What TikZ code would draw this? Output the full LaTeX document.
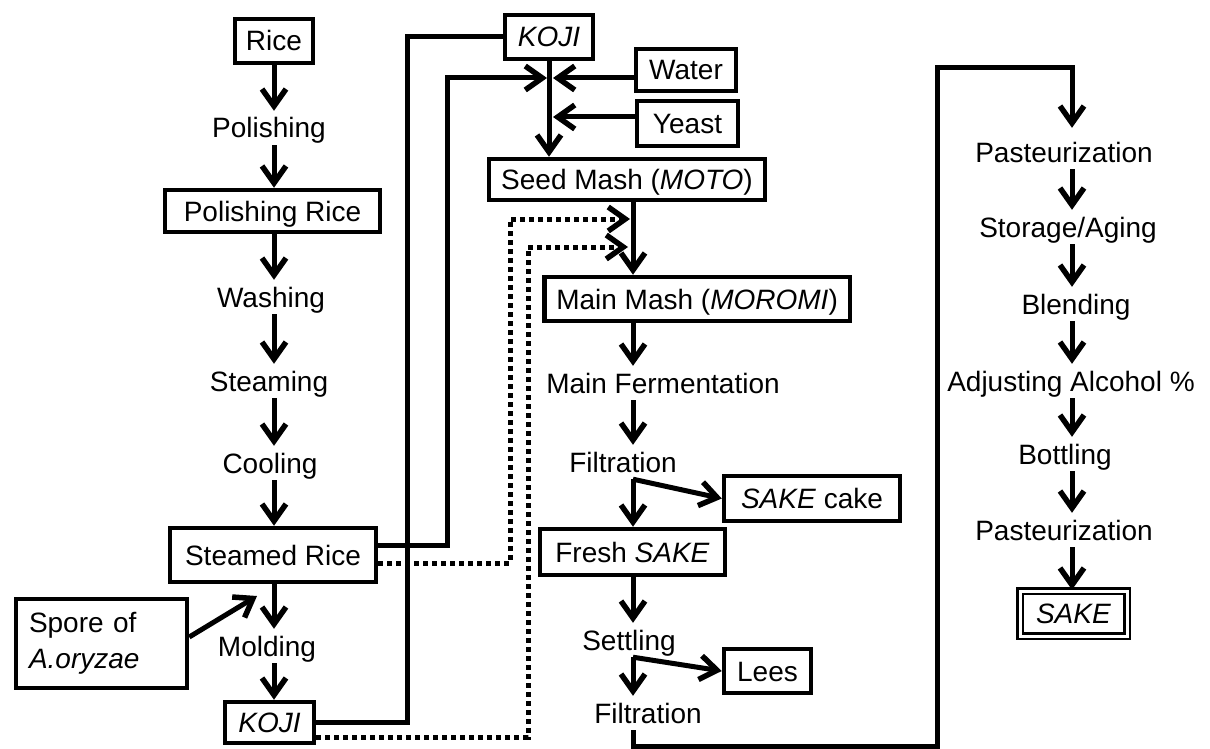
\documentclass[tikz,border=0pt]{standalone}
\usepackage{fontspec}
\setmainfont{Liberation Sans}
\usetikzlibrary{arrows.meta,calc}
\begin{document}
\begin{tikzpicture}[x=1pt,y=-1pt,
  every node/.style={font=\fontsize{28pt}{36pt}\selectfont, inner sep=0pt},
  box/.style={draw, line width=4.5pt, text height=20pt, text depth=0pt},
  lbl/.style={text height=20pt, text depth=0pt, inner xsep=2pt, inner ysep=7pt},
  tipv/.style={-{Straight Barb[length=17pt,width=24pt,line width=5.5pt]}},
  arr/.style={line width=5pt, tipv},
  ln/.style={line width=5pt},
  dot/.style={line width=5pt, dash pattern=on 5pt off 4pt},
  darr/.style={dot, tipv}]
\useasboundingbox (0,0) rectangle (1210,749);
% column guides
\coordinate (cL) at (274,0);
\coordinate (cM) at (633,0);
\coordinate (cR) at (1072,0);
\coordinate (J) at (550,78);
\coordinate (Y) at (553,117);
\coordinate (d1) at (630,219);
\coordinate (d2) at (628,247);
\coordinate (sporetip) at (257,596);
% left column
\node[box, minimum width=78pt, minimum height=44pt] (rice) at (274,41) {Rice};
\node[lbl] (polishing) at (269,128) {Polishing};
\node[box, minimum width=215pt, minimum height=42pt] (polrice) at (272.5,211) {Polishing Rice};
\node[lbl] (washing) at (271,297) {Washing};
\node[lbl] (steaming) at (269,381) {Steaming};
\node[lbl] (cooling) at (270,463) {Cooling};
\node[box, minimum width=206pt, minimum height=54pt] (steamed) at (273,555) {Steamed Rice};
\node[draw, line width=4.5pt, align=left, text width=145pt, inner xsep=13pt, minimum height=89pt] (spore) at (101.5,643.5) {Spore of\\\textit{A.oryzae}};
\node[lbl] (molding) at (267,646) {Molding};
\node[box, minimum width=89pt, minimum height=41pt] (koji2) at (269.5,722.5) {\textit{KOJI}};
% middle column
\node[box, minimum width=88pt, minimum height=44pt] (koji1) at (549,37) {\textit{KOJI}};
\node[box, minimum width=100pt, minimum height=42pt] (water) at (686,70) {Water};
\node[box, minimum width=101pt, minimum height=45pt] (yeast) at (687.5,123.5) {Yeast};
\node[box, minimum width=276pt, minimum height=41pt] (seed) at (627,179.5) {Seed Mash (\textit{MOTO})};
\node[box, minimum height=44pt, inner xsep=12pt, anchor=west] (mm) at (542,299) {Main Mash (\textit{MOROMI})};
\node[lbl] (mf) at (663,383) {Main Fermentation};
\node[lbl] (filt1) at (623,462) {Filtration};
\node[box, minimum width=176pt, minimum height=45pt] (cake) at (812,498.5) {\textit{SAKE} cake};
\node[box, minimum width=185pt, minimum height=46pt] (fresh) at (632.5,552) {Fresh \textit{SAKE}};
\node[lbl] (settling) at (629,640) {Settling};
\node[box, minimum width=87pt, minimum height=44pt] (lees) at (767.5,671) {Lees};
\node[lbl] (filt2) at (648,713) {Filtration};
% right column
\node[lbl] (past1) at (1064,152) {Pasteurization};
\node[lbl] (storage) at (1068,227) {Storage/Aging};
\node[lbl] (blend) at (1076,304) {Blending};
\node[lbl] (adjust) at (1071,381) {Adjusting Alcohol \%};
\node[lbl] (bottle) at (1065,454) {Bottling};
\node[lbl] (past2) at (1064,530) {Pasteurization};
\node[draw, double, line width=2.5pt, double distance=3pt, minimum width=107pt, minimum height=45pt, text height=20pt, text depth=0pt] (sake) at (1073.5,613.5) {\textit{SAKE}};
% left arrows
\draw[arr] (rice.south -| cL) -- (polishing.north -| cL);
\draw[arr] (polishing.south -| cL) -- (polrice.north -| cL);
\draw[arr] (polrice.south -| cL) -- (washing.north -| cL);
\draw[arr] (washing.south -| cL) -- (steaming.north -| cL);
\draw[arr] (steaming.south -| cL) -- (cooling.north -| cL);
\draw[arr] (cooling.south -| cL) -- (steamed.north -| cL);
\draw[arr] (steamed.south -| cL) -- (molding.north -| cL);
\draw[arr] (molding.south -| cL) -- (koji2.north -| cL);
\draw[arr] ($(spore.east)+(0,-6.5)$) -- (sporetip);
% koji / steamed rice feeds
\draw[ln] (koji2.east) -| ($(koji1.west)+(-95,0)$) -- (koji1.west);
\draw[arr] ($(steamed.east)+(0,-10)$) -| ($(J)+(-103,0)$) -- ($(J)+(-3,0)$);
\draw[arr] (water.west |- J) -- ($(J)+(3,0)$);
\draw[arr] (yeast.west |- Y) -- (Y);
\draw[arr] (koji1.south) -- (koji1.south |- seed.north);
\draw[darr] ($(steamed.east)+(0,8)$) -| ($(d1)+(-120,0)$) -- (d1);
\draw[darr] ($(koji2.east)+(0,14.5)$) -| ($(d2)+(-100,0)$) -- (d2);
% middle arrows
\draw[arr] (seed.south -| cM) -- (mm.north -| cM);
\draw[arr] (mm.south -| cM) -- (mf.north -| cM);
\draw[arr] (mf.south -| cM) -- (filt1.north -| cM);
\draw[arr] (filt1.south -| cM) -- (fresh.north -| cM);
\draw[arr] (filt1.south -| cM) -- (cake.west);
\draw[arr] (fresh.south -| cM) -- (settling.north -| cM);
\draw[arr] (settling.south -| cM) -- (filt2.north -| cM);
\draw[arr] (settling.south -| cM) -- (lees.west);
\draw[arr] (filt2.south -| cM) |- (937,746) |- (1072,68) -- ($(past1.north -| cR)+(0,-7)$);
% right arrows
\draw[arr] (past1.south -| cR) -- (storage.north -| cR);
\draw[arr] (storage.south -| cR) -- (blend.north -| cR);
\draw[arr] (blend.south -| cR) -- (adjust.north -| cR);
\draw[arr] (adjust.south -| cR) -- (bottle.north -| cR);
\draw[arr] (bottle.south -| cR) -- (past2.north -| cR);
\draw[arr] (past2.south -| cR) -- (sake.north -| cR);
\end{tikzpicture}
\end{document}
